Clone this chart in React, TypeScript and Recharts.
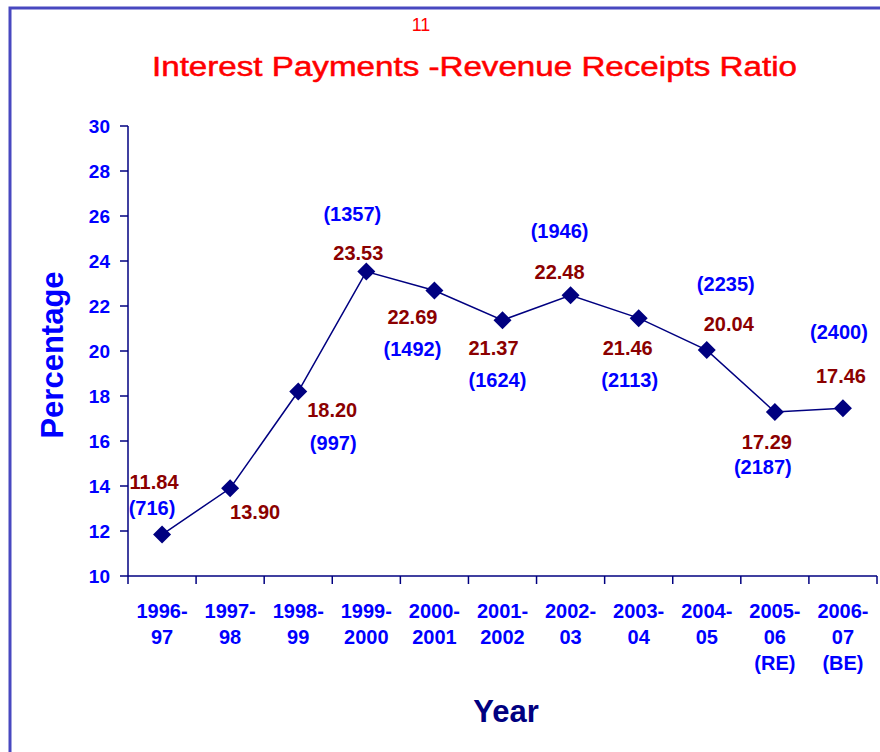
import React from "react"
import { LineChart, Line, XAxis, YAxis } from "recharts"

const years = [
  "1996-\n97",
  "1997-\n98",
  "1998-\n99",
  "1999-\n2000",
  "2000-\n2001",
  "2001-\n2002",
  "2002-\n03",
  "2003-\n04",
  "2004-\n05",
  "2005-\n06\n(RE)",
  "2006-\n07\n(BE)",
]
const ratios = [11.84, 13.9, 18.2, 23.53, 22.69, 21.37, 22.48, 21.46, 20.04, 17.29, 17.46]
const amounts: (number | null)[] = [716, null, 997, 1357, 1492, 1624, 1946, 2113, 2235, 2187, 2400]
const yTicks = [10, 12, 14, 16, 18, 20, 22, 24, 26, 28, 30]

const data = years.map((year, i) => ({ year, ratio: ratios[i], amount: amounts[i] }))

// [dx, dy value label, dx paren label, dy paren label] relative to the point
const labelOffsets = [
  [-8, -53, -10, -27],
  [25, 24, 0, 0],
  [34, 18, 35, 51],
  [-8, -19, -14, -58],
  [-22, 27, -22, 59],
  [-9, 28, -5, 60],
  [-11, -23, -11, -64],
  [-11, 30, -9, 62],
  [22, -26, 19, -66],
  [-8, 30, -12, 55],
  [-2, -32, -4, -76],
]

const FONT = "'Liberation Sans', Arial, sans-serif"
const NAVY = "#000080"
const BLUE = "#0000FF"
const MAROON = "#8B0000"

const W = 880
const H = 752
const margin = { top: 126, right: 3, left: 68, bottom: 76 }
const Y_AXIS_W = 60
const PLOT_W = W - margin.left - Y_AXIS_W - margin.right
const BAND = PLOT_W / years.length

function Diamond(props: any) {
  const { cx, cy } = props
  if (cx == null || cy == null) return null
  const r = 9
  return (
    <polygon
      points={`${cx},${cy - r} ${cx + r},${cy} ${cx},${cy + r} ${cx - r},${cy}`}
      fill={NAVY}
    />
  )
}

function PointLabel(props: any) {
  const { x, y, index, value } = props
  const off = labelOffsets[index]
  const amt = amounts[index]
  return (
    <g fontFamily={FONT} fontWeight="bold" fontSize={20} textAnchor="middle">
      <text x={x + off[0]} y={y + off[1]} fill={MAROON} dominantBaseline="central">
        {Number(value).toFixed(2)}
      </text>
      {amt != null && (
        <text x={x + off[2]} y={y + off[3]} fill={BLUE} dominantBaseline="central">
          ({amt})
        </text>
      )}
    </g>
  )
}

function YearTick(props: any) {
  const { x, y, payload, index } = props
  const lines = String(payload.value).split("\n")
  const left = x - BAND / 2
  const right = x + BAND / 2
  return (
    <g>
      <line x1={left} y1={y} x2={left} y2={y + 8} stroke={NAVY} strokeWidth={1.5} />
      {index === years.length - 1 && (
        <line x1={right} y1={y} x2={right} y2={y + 8} stroke={NAVY} strokeWidth={1.5} />
      )}
      {lines.map((l, i) => (
        <text
          key={i}
          x={x}
          y={y + 35 + i * 26}
          textAnchor="middle"
          dominantBaseline="central"
          fill={BLUE}
          fontFamily={FONT}
          fontWeight="bold"
          fontSize={20}
        >
          {l}
        </text>
      ))}
    </g>
  )
}

export default function App() {
  return (
    <div style={{ position: "absolute", left: 0, top: 0, width: W, height: H, background: "#fff" }}>
      <LineChart width={W} height={H} data={data} margin={margin}>
        <XAxis
          dataKey="year"
          interval={0}
          tickLine={false}
          tickSize={0}
          tickMargin={0}
          height={100}
          padding={{ left: BAND / 2, right: BAND / 2 }}
          axisLine={{ stroke: NAVY, strokeWidth: 1.5 }}
          tick={<YearTick />}
        />
        <YAxis
          width={Y_AXIS_W}
          domain={[10, 30]}
          ticks={yTicks}
          interval={0}
          tickSize={8}
          tickMargin={10}
          axisLine={{ stroke: NAVY, strokeWidth: 1.5 }}
          tickLine={{ stroke: NAVY, strokeWidth: 1.5 }}
          tick={{ fill: BLUE, fontFamily: FONT, fontWeight: "bold", fontSize: 19 }}
        />
        <Line
          dataKey="ratio"
          stroke={NAVY}
          strokeWidth={1.5}
          dot={<Diamond />}
          activeDot={false}
          label={<PointLabel />}
          isAnimationActive={false}
        />
      </LineChart>
      <svg
        width={W}
        height={H}
        style={{ position: "absolute", left: 0, top: 0, pointerEvents: "none" }}
      >
        <path d={`M10 ${H} L10 8 L${W} 8`} fill="none" stroke="#4848c0" strokeWidth={3} />
        <text x={421} y={25} textAnchor="middle" dominantBaseline="central" fill="#FF0000" fontFamily={FONT} fontSize={18}>
          11
        </text>
        <text
          x={152}
          y={67}
          textLength={645}
          lengthAdjust="spacingAndGlyphs"
          dominantBaseline="central"
          fill="#FF0000"
          stroke="#FF0000"
          strokeWidth={0.5}
          fontFamily={FONT}
          fontSize={27}
        >
          Interest Payments -Revenue Receipts Ratio
        </text>
        <text
          transform="translate(52 355) rotate(-90)"
          textAnchor="middle"
          dominantBaseline="central"
          fill={BLUE}
          fontFamily={FONT}
          fontWeight="bold"
          fontSize={31}
        >
          Percentage
        </text>
        <text
          x={506}
          y={711}
          textAnchor="middle"
          dominantBaseline="central"
          fill={NAVY}
          fontFamily={FONT}
          fontWeight="bold"
          fontSize={31}
        >
          Year
        </text>
      </svg>
    </div>
  )
}
